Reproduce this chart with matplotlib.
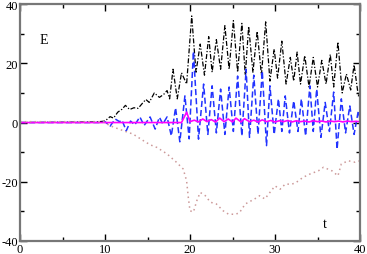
import matplotlib
matplotlib.use("Agg")
import matplotlib.pyplot as plt

# ---- data ----
black_x = [0, 9.0, 10.0, 10.6, 11.0, 11.5, 12.0, 12.4, 12.9, 13.4, 13.9, 14.4, 14.8, 15.2, 15.8, 16.4, 16.9, 17.3, 17.6,
           18.0, 18.5, 19.0, 19.6, 20.2, 20.7, 21.2, 21.7, 22.2, 22.6, 23.1, 23.6, 24.1, 24.6, 25.1, 25.6, 26.1, 26.5,
           26.9, 27.4, 27.9, 28.4, 28.9, 29.4, 29.9, 30.3, 30.8, 31.3, 31.8, 32.2, 32.6, 33.0, 33.5, 34.0, 34.5, 35.0,
           35.5, 36.0, 36.5, 36.9, 37.4, 37.9, 38.4, 38.9, 39.3, 39.8, 40.0]
black_y = [0, 0.2, 0.5, 2.0, 1.5, 3.5, 4.5, 5.8, 4.4, 5.0, 4.8, 6.5, 7.8, 6.8, 10.0, 8.5, 9.5, 10.8, 8.0,
           18.0, 8.0, 16.8, 13.0, 36.0, 17.0, 26.5, 16.0, 29.0, 17.0, 28.0, 18.0, 32.7, 18.0, 34.4, 17.0, 33.5, 16.0,
           32.5, 17.0, 30.8, 16.0, 34.0, 14.0, 24.8, 15.0, 27.5, 13.0, 22.0, 14.0, 23.8, 13.0, 22.6, 12.0, 22.0, 12.0,
           21.0, 13.0, 23.0, 12.0, 27.2, 10.0, 16.4, 11.0, 19.5, 9.0, 10.0]

blue_x = [0, 9.5, 10.0, 10.6, 11.2, 11.7, 12.0, 12.5, 13.0, 13.5, 14.1, 14.6, 15.3, 15.9, 16.4, 16.8, 17.3, 17.8, 18.3,
          18.8, 19.4, 19.9, 20.4, 21.0, 21.6, 22.1, 22.6, 23.1, 23.6, 24.1, 24.6, 25.1, 25.6, 26.1, 26.6, 27.0, 27.5,
          28.0, 28.5, 29.0, 29.4, 29.9, 30.4, 30.8, 31.2, 31.7, 32.2, 32.7, 33.1, 33.6, 34.1, 34.5, 34.9, 35.4, 35.9,
          36.4, 36.9, 37.3, 37.8, 38.3, 38.8, 39.3, 39.8, 40.0]
blue_y = [0, 0, 0.3, -1.2, 1.2, 0.3, 0.8, -2.8, 0.5, -0.8, 1.9, -1.0, 1.9, -2.2, 1.8, -0.5, 1.9, -4.5, 5.0,
          -6.5, 9.0, -5.5, 24.0, -5.6, 13.0, -4.0, 12.4, -3.5, 11.3, -4.0, 12.0, -3.0, 15.7, -4.5, 18.0, -5.0, 16.0,
          -4.0, 17.4, -7.8, 12.4, -4.0, 8.0, -3.0, 9.0, -3.5, 7.3, -3.0, 8.0, -4.5, 12.4, -3.0, 11.3, -5.0, 6.8,
          -3.0, 10.3, -9.0, 8.0, -3.5, 5.6, -4.0, 4.0, 1.0]

mag_x = [0, 19.0, 19.6, 20.0, 20.5, 21.0, 21.5, 22.0, 22.5, 23.0, 23.5, 24.0, 24.5, 25.0, 25.4, 26.0, 26.4, 27.0,
         27.5, 28.0, 28.5, 29.0, 29.5, 30.0, 30.5, 31.0, 31.5, 32.0, 32.5, 33.0, 33.5, 34.0, 34.5, 35.0, 35.5, 36.0,
         36.5, 37.0, 37.5, 38.0, 38.5, 39.0, 39.5, 40.0]
mag_y = [0, 0, 3.5, 0.3, 0.8, 0.2, 1.2, 0.3, 1.0, 0.2, 1.5, 0.3, 1.2, 0.2, 1.5, 0.2, 1.3, 0.3,
         0.8, 0.2, 0.9, 0.3, 0.7, 0.2, 0.6, 0.3, 0.7, 0.2, 0.6, 0.3, 0.5, 0.2, 0.6, 0.3, 0.5, 0.2,
         0.5, 0.3, 0.5, 0.2, 0.5, 0.3, 0.4, 0.3]

dot_x = [0, 9.8, 10.6, 12.2, 13.3, 14.5, 15.3, 16.1, 17.3, 18.4, 19.2, 19.6, 19.8, 20.0, 20.4, 20.8, 21.2, 21.8, 22.4,
         23.1, 23.9, 24.5, 25.3, 25.8, 26.5, 27.6, 28.2, 28.8, 29.4, 30.0, 30.6, 31.2, 32.0, 32.5, 33.3, 34.1, 35.1,
         35.7, 36.7, 37.4, 37.8, 38.6, 39.4, 40.0]
dot_y = [0.3, 0.3, -1.1, -2.8, -3.9, -6.1, -7.5, -8.4, -10.6, -13.4, -15.7, -19.7, -25.3, -29.8, -30.2, -26.4, -23.6,
         -24.7, -26.9, -27.5, -29.8, -30.9, -31.0, -30.5, -27.5, -25.8, -24.7, -25.8, -23.6, -21.4, -22.5, -20.8, -20.8,
         -20.2, -18.5, -17.4, -16.3, -15.1, -16.3, -18.0, -14.0, -12.9, -13.4, -12.9]

x_ticks = [0, 10, 20, 30, 40]
y_ticks = [-40, -20, 0, 20, 40]

plt.rcParams['font.family'] = ['Liberation Serif', 'DejaVu Serif']
plt.rcParams['axes.unicode_minus'] = False

fig = plt.figure(figsize=(3.67, 2.55), dpi=100)
ax = fig.add_axes([0.0545, 0.051, 0.9265, 0.929])

ax.plot(black_x, black_y, color='black', lw=0.9, linestyle=(0, (4, 1.5, 1, 1.5)))
ax.plot(blue_x, blue_y, color='#2233ff', lw=1.1, linestyle=(0, (4, 2)))
ax.plot(mag_x, mag_y, color='#ff00ff', lw=1.2)
ax.plot(dot_x, dot_y, color='#cc9999', lw=1.1, linestyle=(0, (1, 2.2)))

ax.set_xlim(0, 40)
ax.set_ylim(-40, 40)
ax.set_xticks(x_ticks)
ax.set_yticks(y_ticks)
ax.set_xticks([5, 15, 25, 35], minor=True)
ax.set_yticks([-30, -10, 10, 30], minor=True)
ax.tick_params(which='both', direction='in', top=True, right=True, labelsize=9, pad=1.5, color='black')
ax.tick_params(which='major', length=5, width=1)
ax.tick_params(which='minor', length=3, width=1)
for s in ax.spines.values():
    s.set_color('#777777')
    s.set_linewidth(1.6)

ax.text(2.8, 28, 'E', fontsize=10, ha='center', va='center')
ax.text(35.9, -34, 't', fontsize=10, ha='center', va='center')

fig.savefig('out.png', dpi=100)
